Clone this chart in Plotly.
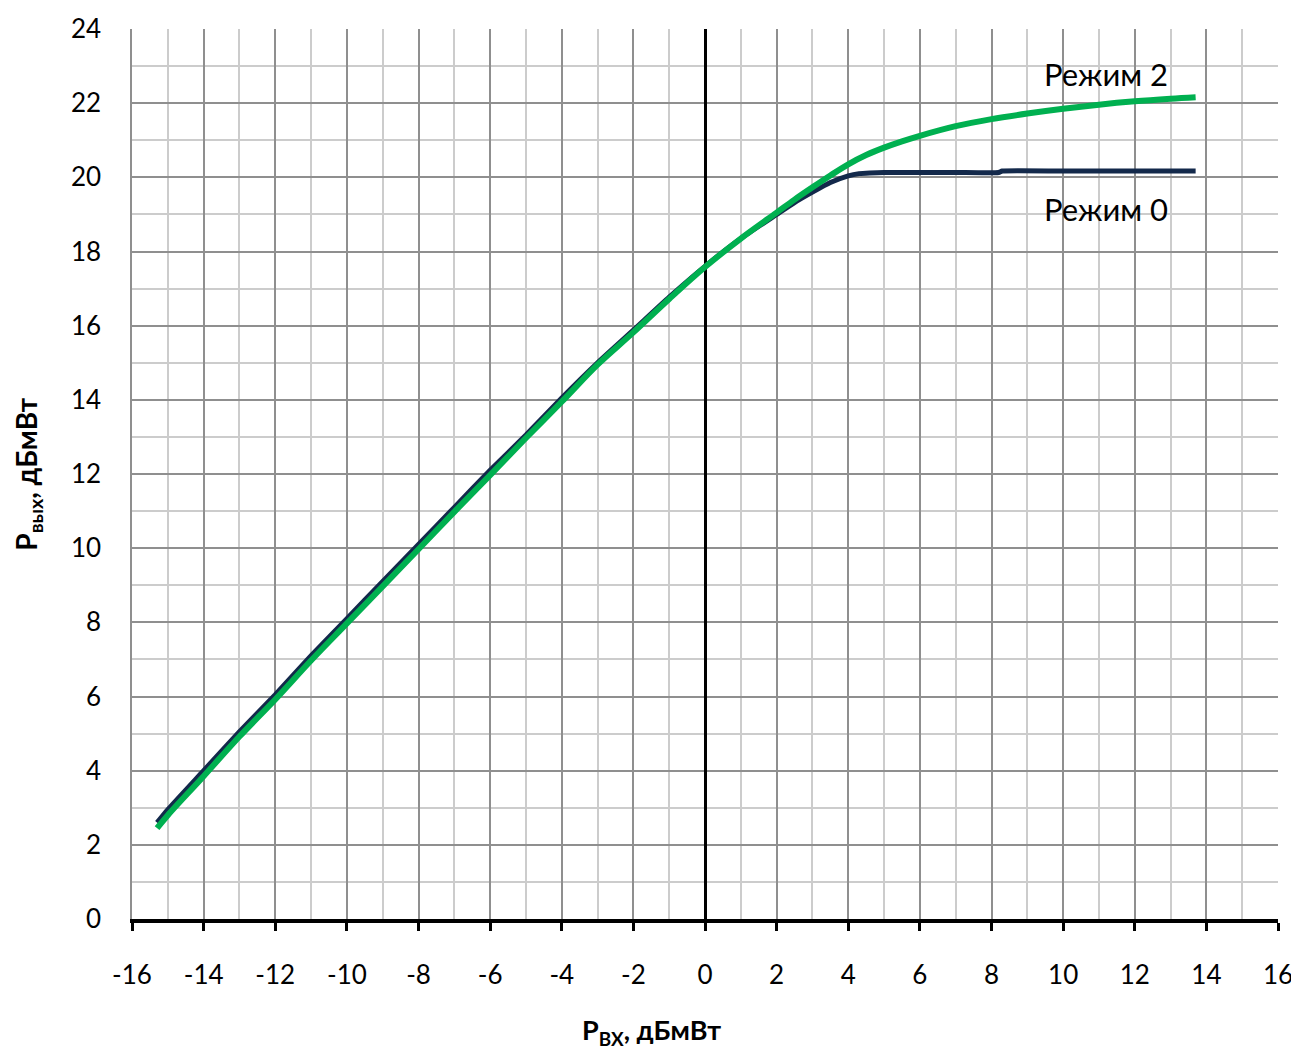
import plotly.graph_objects as go

# Режим 0 (dark)
x_mode0 = [-15.3, -15.0, -14.0, -13.0, -12.0, -11.0, -10.0, -9.0, -8.0, -7.0, -6.0, -5.0,
           -4.0, -3.0, -2.0, -1.0, 0.0, 1.0, 2.0, 2.5, 3.0, 3.5, 4.0, 4.3, 4.6, 5.0, 6.0, 7.0, 8.2,
           8.3, 10.0, 12.0, 13.7]
y_mode0 = [2.6, 2.95, 4.0, 5.05, 6.05, 7.1, 8.1, 9.1, 10.1, 11.1, 12.1, 13.05,
           14.05, 15.0, 15.88, 16.77, 17.6, 18.35, 19.0, 19.32, 19.6, 19.86, 20.04, 20.1, 20.12, 20.13, 20.13, 20.13, 20.13,
           20.17, 20.17, 20.17, 20.17]

# Режим 2 (green)
x_mode2 = [-15.3, -15.0, -14.0, -13.0, -12.0, -11.0, -10.0, -9.0, -8.0, -7.0, -6.0, -5.0,
           -4.0, -3.0, -2.0, -1.0, 0.0, 1.0, 2.0, 2.5, 3.0, 3.5, 4.0, 4.5, 5.0, 5.5, 6.0, 7.0, 8.0, 9.0,
           10.0, 11.0, 12.0, 13.0, 13.7]
y_mode2 = [2.45, 2.8, 3.85, 4.92, 5.92, 6.97, 7.97, 8.97, 9.97, 10.98, 11.97, 12.97,
           13.95, 14.95, 15.82, 16.72, 17.58, 18.35, 19.05, 19.4, 19.73, 20.05, 20.35, 20.6, 20.8, 20.97, 21.12, 21.38, 21.57, 21.72,
           21.85, 21.96, 22.05, 22.12, 22.16]

x_ticks = list(range(-16, 17, 2))
y_ticks = list(range(0, 25, 2))

FONT = "Lato"

fig = go.Figure()
fig.add_trace(go.Scatter(x=x_mode0, y=y_mode0, mode="lines", name="Режим 0",
                         line=dict(color="#13294b", width=5, shape="spline", smoothing=0.5)))
fig.add_trace(go.Scatter(x=x_mode2, y=y_mode2, mode="lines", name="Режим 2",
                         line=dict(color="#00b050", width=6, shape="spline", smoothing=1.0)))

fig.add_annotation(x=11.2, y=22.8, text="Режим 2", showarrow=False,
                   font=dict(family=FONT, size=31, color="#000000"))
fig.add_annotation(x=11.2, y=19.15, text="Режим 0", showarrow=False,
                   font=dict(family=FONT, size=31, color="#000000"))

# axis titles as annotations (positioned like the reference)
fig.add_annotation(xref="paper", yref="paper", x=0.4537, y=-0.149, yanchor="bottom",
                   text="<b>P<sub>ВХ</sub>, дБмВт</b>", showarrow=False,
                   font=dict(family=FONT, size=27, color="#000000"))
fig.add_annotation(xref="paper", yref="paper", x=-0.091, y=0.5, xanchor="center", textangle=-90,
                   text="<b>P<sub>вых</sub>, дБмВт</b>", showarrow=False,
                   font=dict(family=FONT, size=28, color="#000000"))

fig.update_layout(
    width=1291, height=1045,
    margin=dict(l=124, r=21, t=21, b=134, autoexpand=False),
    paper_bgcolor="white", plot_bgcolor="white",
    showlegend=False,
    font=dict(family=FONT, size=26, color="#000000"),
)

fig.update_xaxes(
    range=[-16, 16], tickvals=x_ticks, ticktext=[str(v) for v in x_ticks],
    automargin=False,
    showgrid=True, gridcolor="#8f8f8f", gridwidth=1.5,
    minor=dict(dtick=1, tick0=0, showgrid=True, gridcolor="#cccccc", gridwidth=1.5),
    zeroline=True, zerolinecolor="#000000", zerolinewidth=3,
    showline=True, linecolor="#000000", linewidth=4,
    ticks="outside", ticklen=8, tickwidth=3, tickcolor="#000000",
    ticklabelstandoff=22,
    tickfont=dict(family=FONT, size=26),
)
fig.update_yaxes(
    range=[0, 24], tickvals=y_ticks, ticktext=[str(v) for v in y_ticks],
    automargin=False,
    showgrid=True, gridcolor="#8f8f8f", gridwidth=1.5,
    minor=dict(dtick=1, tick0=0, showgrid=True, gridcolor="#cccccc", gridwidth=1.5),
    zeroline=False,
    showline=True, linecolor="#8f8f8f", linewidth=1.5, mirror=False,
    ticks="", ticklabelstandoff=24,
    tickfont=dict(family=FONT, size=26),
)

fig.write_html("out.html")
